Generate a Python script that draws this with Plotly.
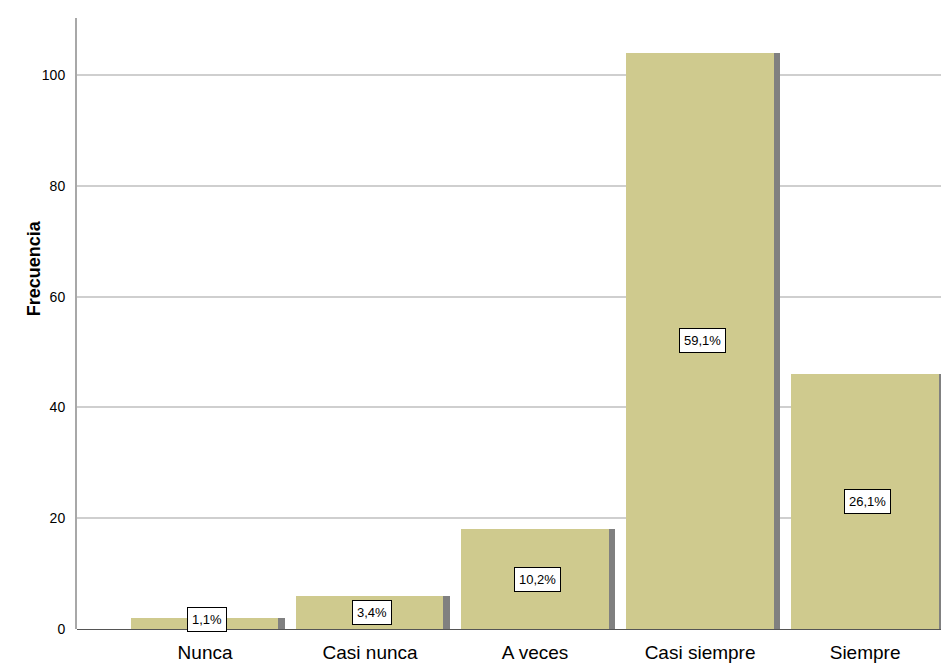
import plotly.graph_objects as go

categories = ["Nunca", "Casi nunca", "A veces", "Casi siempre", "Siempre"]
counts = [2, 6, 18, 104, 46]
pct_labels = ["1,1%", "3,4%", "10,2%", "59,1%", "26,1%"]
y_ticks = [0, 20, 40, 60, 80, 100]

FONT = "Liberation Sans, Arial, sans-serif"
bar_color = "#CFCA8E"
shadow_color = "#808080"

fig = go.Figure()
# shadow
fig.add_trace(go.Bar(x=categories, y=counts, width=0.48, offset=0.005,
                     marker=dict(color=shadow_color, line=dict(width=0)),
                     hoverinfo="skip", showlegend=False))
# main bars
fig.add_trace(go.Bar(x=categories, y=counts, width=0.895, offset=-0.45,
                     marker=dict(color=bar_color, line=dict(width=0)),
                     showlegend=False))

for c, v, t in zip(categories, counts, pct_labels):
    fig.add_annotation(x=c, y=max(v / 2, 1.8), text=t, showarrow=False,
                       font=dict(family=FONT, size=13, color="#000000"),
                       bgcolor="#FFFFFF", bordercolor="#000000", borderwidth=1,
                       borderpad=4, xshift=2)

fig.add_annotation(x=-0.064, xref="paper", y=0.59, yref="paper",
                   text="<b>Frecuencia</b>", textangle=-90, showarrow=False,
                   font=dict(family=FONT, size=18, color="#000000"))

fig.update_layout(
    width=941, height=670,
    margin=dict(l=77, r=0, t=18, b=41),
    paper_bgcolor="#FFFFFF", plot_bgcolor="#FFFFFF",
    barmode="overlay", bargap=0,
    font=dict(family=FONT, color="#000000"),
    xaxis=dict(type="category", range=[-0.776, 4.46], showgrid=False,
               showline=False, ticks="", tickfont=dict(size=19, family=FONT),
               ticklabelstandoff=10, zeroline=False),
    yaxis=dict(range=[0, 110.3], tickvals=y_ticks, ticktext=[str(t) for t in y_ticks],
               showgrid=True, gridcolor="#CFCFCF", gridwidth=1.5,
               showline=True, linecolor="#A8A8A8", linewidth=2,
               zeroline=True, zerolinecolor="#555555", zerolinewidth=1,
               ticks="", ticklabelstandoff=7, tickfont=dict(size=14, family=FONT)),
)

fig.write_html("out.html")
